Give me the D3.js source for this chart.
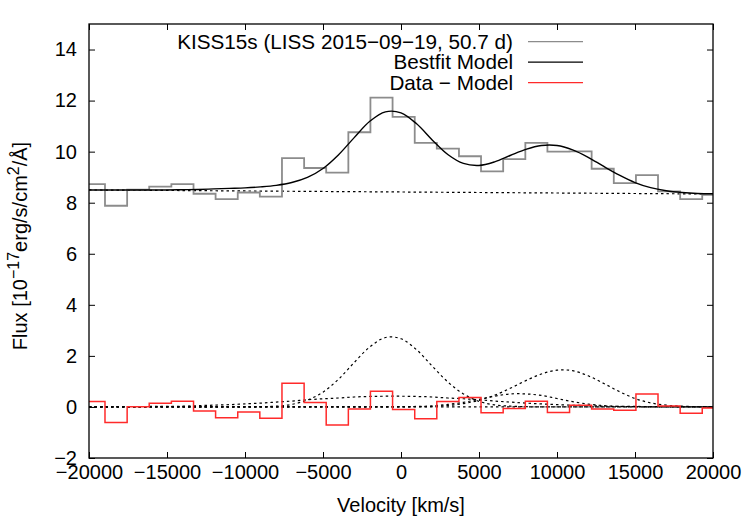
<!DOCTYPE html>
<html>
<head>
<meta charset="utf-8">
<script src="https://cdn.jsdelivr.net/npm/d3@7"></script>
<style>
  body { margin: 0; background: #fff; }
  svg { display: block; font-family: "Liberation Sans", Arial, sans-serif; }
</style>
</head>
<body>
<div id="chart"></div>
<script>
// histogram bin edges (km/s) and binned values
const binEdges = [-20390, -18975, -17555, -16140, -14720, -13300, -11885, -10465, -9050, -7630,
  -6210, -4795, -3375, -1960, -540, 880, 2295, 3715, 5130, 6550,
  7970, 9385, 10805, 12220, 13640, 15060, 16475, 17895, 19310, 20730];
const fluxData = [8.73, 7.88, 8.51, 8.63, 8.73, 8.35, 8.14, 8.40, 8.24, 9.75,
  9.36, 9.18, 10.76, 12.12, 11.36, 10.34, 10.12, 9.82, 9.23, 9.71,
  10.34, 10.00, 10.01, 9.33, 8.77, 9.08, 8.44, 8.14, 8.31];
const residual = [0.21, -0.61, 0.01, 0.14, 0.22, -0.16, -0.42, -0.20, -0.44, 0.93,
  0.17, -0.71, -0.08, 0.61, -0.10, -0.46, 0.21, 0.37, -0.23, -0.06,
  0.22, -0.22, 0.07, -0.08, -0.13, 0.51, 0.04, -0.25, -0.04];

// model curves sampled every 1000 km/s
const modelVel = [-20000, -19000, -18000, -17000, -16000, -15000, -14000, -13000, -12000, -11000,
  -10000, -9000, -8000, -7000, -6000, -5000, -4000, -3000, -2000, -1000,
  0, 1000, 2000, 3000, 4000, 5000, 6000, 7000, 8000, 9000,
  10000, 11000, 12000, 13000, 14000, 15000, 16000, 17000, 18000, 19000, 20000];
const bestfit = [8.50, 8.50, 8.50, 8.50, 8.50, 8.50, 8.51, 8.52, 8.54, 8.56,
  8.58, 8.62, 8.68, 8.79, 8.99, 9.34, 9.88, 10.55, 11.19, 11.56,
  11.52, 11.09, 10.46, 9.89, 9.54, 9.46, 9.60, 9.85, 10.09, 10.24,
  10.24, 10.07, 9.78, 9.42, 9.08, 8.79, 8.59, 8.47, 8.40, 8.36, 8.35];
const compA = [0, 0, 0, 0, 0, 0, 0, 0, 0, 0,
  0, 0.01, 0.03, 0.10, 0.27, 0.58, 1.09, 1.74, 2.35, 2.72,
  2.67, 2.24, 1.60, 0.98, 0.51, 0.22, 0.08, 0.03, 0.01, 0,
  0, 0, 0, 0, 0, 0, 0, 0, 0, 0, 0];
const compB = [0, 0, 0, 0, 0, 0, 0, 0, 0, 0,
  0, 0, 0, 0, 0, 0, 0, 0, 0, 0,
  0, 0.01, 0.02, 0.06, 0.13, 0.26, 0.46, 0.73, 1.03, 1.29,
  1.44, 1.42, 1.22, 0.92, 0.60, 0.33, 0.16, 0.07, 0.03, 0.01, 0];
const compC = [0, 0, 0.01, 0.01, 0.02, 0.02, 0.03, 0.05, 0.07, 0.09,
  0.12, 0.15, 0.19, 0.23, 0.28, 0.32, 0.35, 0.39, 0.41, 0.42,
  0.42, 0.41, 0.39, 0.35, 0.32, 0.28, 0.23, 0.19, 0.15, 0.12,
  0.09, 0.07, 0.05, 0.03, 0.02, 0.02, 0.01, 0.01, 0, 0, 0];
const compD = [0, 0, 0, 0, 0, 0, 0, 0, 0, 0,
  0, 0, 0, 0, 0, 0, 0, 0, 0, 0,
  0.01, 0.02, 0.04, 0.10, 0.18, 0.30, 0.42, 0.51, 0.51, 0.45,
  0.33, 0.21, 0.11, 0.05, 0.02, 0.01, 0, 0, 0, 0, 0];
const contVel = [-20000, 20000];
const contFlux = [8.50, 8.34];
const zeroLine = [0, 0];

const xTicks = [-20000, -15000, -10000, -5000, 0, 5000, 10000, 15000, 20000];
const yTicks = [-2, 0, 2, 4, 6, 8, 10, 12, 14];
const legendLabels = ["KISS15s (LISS 2015\u221209\u221219, 50.7 d)", "Bestfit Model", "Data \u2212 Model"];
const legendColors = ["#8c8c8c", "#000", "#ff2a2a"];

const width = 750, height = 525;
const margin = { top: 24, right: 37, bottom: 67, left: 89 };
const innerWidth = width - margin.left - margin.right;
const innerHeight = height - margin.top - margin.bottom;

const svg = d3.select("#chart").append("svg")
  .attr("width", width).attr("height", height);

const chart = svg.append("g")
  .attr("transform", `translate(${margin.left},${margin.top})`);

const x = d3.scaleLinear().domain([-20000, 20000]).range([0, innerWidth]);
const y = d3.scaleLinear().domain([-2, 15]).range([innerHeight, 0]);

const minus = (d) => String(d).replace("-", "\u2212");

chart.append("defs").append("clipPath").attr("id", "clip")
  .append("rect").attr("width", innerWidth).attr("height", innerHeight);

// axes, ticks pointing inward on all four sides
const axisStyle = (g) => {
  g.select(".domain").remove();
  g.selectAll("line").attr("stroke", "#000").attr("stroke-width", 1);
  g.selectAll("text").attr("fill", "#000").attr("font-size", "20px")
    .attr("font-family", "Liberation Sans, Arial, sans-serif");
};
const noLabels = (g) => {
  g.select(".domain").remove();
  g.selectAll("text").remove();
  g.selectAll("line").attr("stroke", "#000").attr("stroke-width", 1);
};

chart.append("g")
  .attr("transform", `translate(0,${innerHeight})`)
  .call(d3.axisBottom(x).tickValues(xTicks).tickSize(-6).tickPadding(7).tickFormat(minus))
  .call(axisStyle);
chart.append("g")
  .call(d3.axisTop(x).tickValues(xTicks).tickSize(-6))
  .call(noLabels);
chart.append("g")
  .call(d3.axisLeft(y).tickValues(yTicks).tickSize(-6).tickPadding(12).tickFormat(minus))
  .call(axisStyle);
chart.append("g")
  .attr("transform", `translate(${innerWidth},0)`)
  .call(d3.axisRight(y).tickValues(yTicks).tickSize(-6))
  .call(noLabels);

const plot = chart.append("g").attr("clip-path", "url(#clip)");

const smooth = d3.line()
  .x((d) => x(d[0]))
  .y((d) => y(d[1]))
  .curve(d3.curveCatmullRom);

const straight = d3.line()
  .x((d) => x(d[0]))
  .y((d) => y(d[1]));

const steps = d3.line()
  .x((d) => x(d[0]))
  .y((d) => y(d[1]))
  .curve(d3.curveStepAfter);

const stepPoints = (vals) =>
  binEdges.map((e, i) => [e, vals[Math.min(i, vals.length - 1)]]);

// dotted components in the lower panel
[compA, compB, compC, compD].forEach((comp) => {
  plot.append("path")
    .datum(modelVel.map((v, i) => [v, comp[i]]))
    .attr("d", smooth)
    .attr("fill", "none")
    .attr("stroke", "#000")
    .attr("stroke-width", 1.2)
    .attr("stroke-dasharray", "2.5,3");
});

plot.append("path")
  .datum(contVel.map((v, i) => [v, zeroLine[i]]))
  .attr("d", straight)
  .attr("fill", "none")
  .attr("stroke", "#000")
  .attr("stroke-width", 1.2)
  .attr("stroke-dasharray", "2.5,3");

plot.append("path")
  .datum(contVel.map((v, i) => [v, contFlux[i]]))
  .attr("d", straight)
  .attr("fill", "none")
  .attr("stroke", "#000")
  .attr("stroke-width", 1.2)
  .attr("stroke-dasharray", "2.5,3");

plot.append("path")
  .datum(stepPoints(residual))
  .attr("d", steps)
  .attr("fill", "none")
  .attr("stroke", legendColors[2])
  .attr("stroke-width", 1.5);

plot.append("path")
  .datum(stepPoints(fluxData))
  .attr("d", steps)
  .attr("fill", "none")
  .attr("stroke", legendColors[0])
  .attr("stroke-width", 1.8);

plot.append("path")
  .datum(modelVel.map((v, i) => [v, bestfit[i]]))
  .attr("d", smooth)
  .attr("fill", "none")
  .attr("stroke", legendColors[1])
  .attr("stroke-width", 1.4);

// frame
chart.append("rect")
  .attr("width", innerWidth)
  .attr("height", innerHeight)
  .attr("fill", "none")
  .attr("stroke", "#000")
  .attr("stroke-width", 1.3);

// legend
const legend = chart.append("g");
legendLabels.forEach((label, i) => {
  const ly = 17.7 + i * 20.5;
  legend.append("text")
    .attr("x", 513 - margin.left)
    .attr("y", ly)
    .attr("dy", "0.35em")
    .attr("text-anchor", "end")
    .attr("font-size", "20.7px")
    .text(label);
  legend.append("line")
    .attr("x1", 528 - margin.left)
    .attr("x2", 583 - margin.left)
    .attr("y1", ly)
    .attr("y2", ly)
    .attr("stroke", legendColors[i])
    .attr("stroke-width", 1.3);
});

// axis titles
svg.append("text")
  .attr("x", margin.left + innerWidth / 2)
  .attr("y", 512)
  .attr("text-anchor", "middle")
  .attr("font-size", "20px")
  .text("Velocity [km/s]");

const yTitle = svg.append("text")
  .attr("transform", "rotate(-90)")
  .attr("x", -246)
  .attr("y", 27)
  .attr("text-anchor", "middle")
  .attr("font-size", "20px");
yTitle.append("tspan").text("Flux [10");
yTitle.append("tspan").attr("dy", -8).attr("font-size", "16px").text("\u221217");
yTitle.append("tspan").attr("dy", 8).text("erg/s/cm");
yTitle.append("tspan").attr("dy", -8).attr("font-size", "16px").text("2");
yTitle.append("tspan").attr("dy", 8).text("/\u00c5]");
</script>
</body>
</html>
